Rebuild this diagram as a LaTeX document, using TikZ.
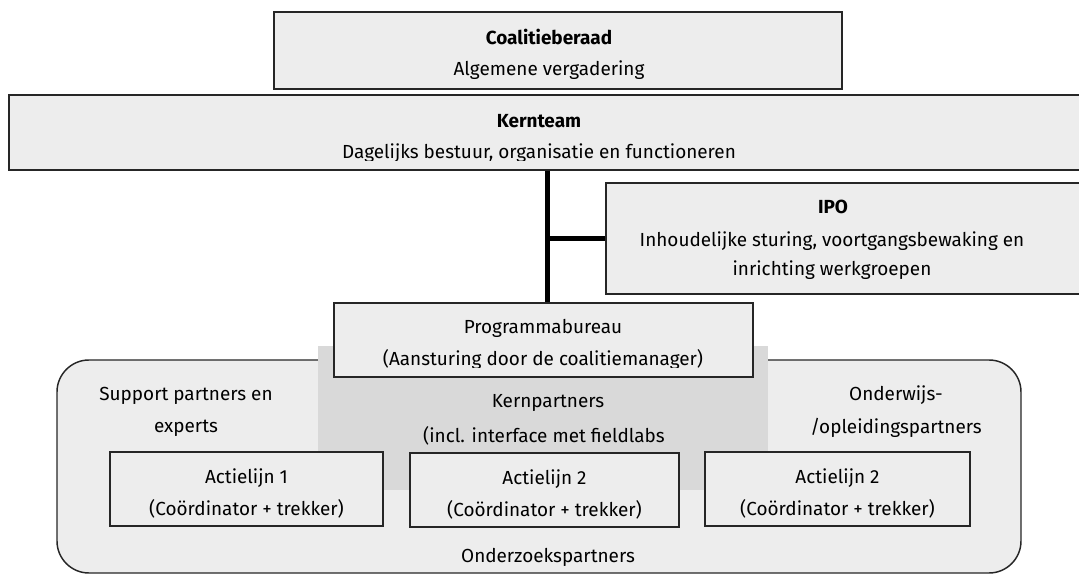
\documentclass[tikz,border=0pt]{standalone}
\usepackage{fontspec}
\setmainfont{Fira Sans}[Scale=1]
\begin{document}
\begin{tikzpicture}[x=0.75pt,y=-0.75pt,
  box/.style={draw=black!85,line width=1.1pt,fill=black!7,inner sep=0pt,anchor=center},
  txt/.style={inner sep=0pt,anchor=center,font=\fontsize{14.2pt}{16pt}\selectfont},
  btxt/.style={txt,font=\fontsize{14.2pt}{16pt}\selectfont\bfseries},
  thick line/.style={line width=3.8pt,black}]
\useasboundingbox (0,0) rectangle (1079,574);
\clip (0,0) rectangle (1079,574);
% outer rounded region
\node[box,rounded corners=24pt,minimum width=964*0.75pt,minimum height=213*0.75pt] (outer) at (539,466.5) {};
% core partners grey area
\node[fill=black!15,inner sep=0pt,minimum width=450*0.75pt,minimum height=144*0.75pt] (core) at (543,418) {};
% top boxes
\node[box,minimum width=568*0.75pt,minimum height=77*0.75pt] (coal) at (558,50.5) {};
\node[box,minimum width=1080*0.75pt,minimum height=75*0.75pt] (kern) at (549,132.5) {};
\node[box,minimum width=484*0.75pt,minimum height=111*0.75pt] (ipo) at (848,238.5) {};
\node[box,minimum width=419*0.75pt,minimum height=74*0.75pt] (prog) at (543.5,340) {};
% action lines
\node[box,minimum width=273*0.75pt,minimum height=74*0.75pt] (a1) at (246.5,489) {};
\node[box,minimum width=269*0.75pt,minimum height=74*0.75pt] (a2) at (544.5,490) {};
\node[box,minimum width=265*0.75pt,minimum height=74*0.75pt] (a3) at (837.5,489) {};
% connectors
\coordinate (j) at (547.5,238.5);
\draw[thick line] (kern.south -| j) -- (prog.north -| j);
\draw[thick line] ([xshift=-1.5pt]j) -- (ipo.west |- j);
% texts
\node[btxt] (tcoal) at (549,37) {Coalitieberaad};
\node[txt] (tcoal2) at (549,70) {Algemene vergadering};
\node[btxt] (tkern) at (539,121) {Kernteam};
\begin{scope}
\clip (0,0) rectangle (1079,160.5);
\node[txt] (tkern2) at (539,153) {Dagelijks bestuur, organisatie en functioneren};
\end{scope}
\node[btxt] (tipo) at (833,207) {IPO};
\node[txt] (tipo2) at (832,241) {Inhoudelijke sturing, voortgangsbewaking en};
\node[txt] (tipo3) at (832,270) {inrichting werkgroepen};
\node[txt] (tprog) at (543,328) {Programmabureau};
\begin{scope}
\clip (0,0) rectangle (1079,367.5);
\node[txt] (tprog2) at (543,360) {(Aansturing door de coalitiemanager)};
\end{scope}
\node[txt] (ts1) at (186,396) {Support partners en};
\node[txt] (ts2) at (186,428) {experts};
\node[txt] (tk1) at (548,403) {Kernpartners};
\node[txt] (tk2) at (544,436) {(incl. interface met fieldlabs};
\node[txt] (to1) at (896,395) {Onderwijs-};
\node[txt] (to2) at (896,428) {/opleidingspartners};
\node[txt] (ta11) at (246.5,478) {Actielijn 1};
\node[txt] (ta12) at (246.5,509) {(Coördinator + trekker)};
\node[txt] (ta21) at (544.5,479) {Actielijn 2};
\node[txt] (ta22) at (544.5,510) {(Coördinator + trekker)};
\node[txt] (ta31) at (837.5,478) {Actielijn 2};
\node[txt] (ta32) at (837.5,509) {(Coördinator + trekker)};
\node[txt] (tonz) at (548,557) {Onderzoekspartners};
\end{tikzpicture}
\end{document}
